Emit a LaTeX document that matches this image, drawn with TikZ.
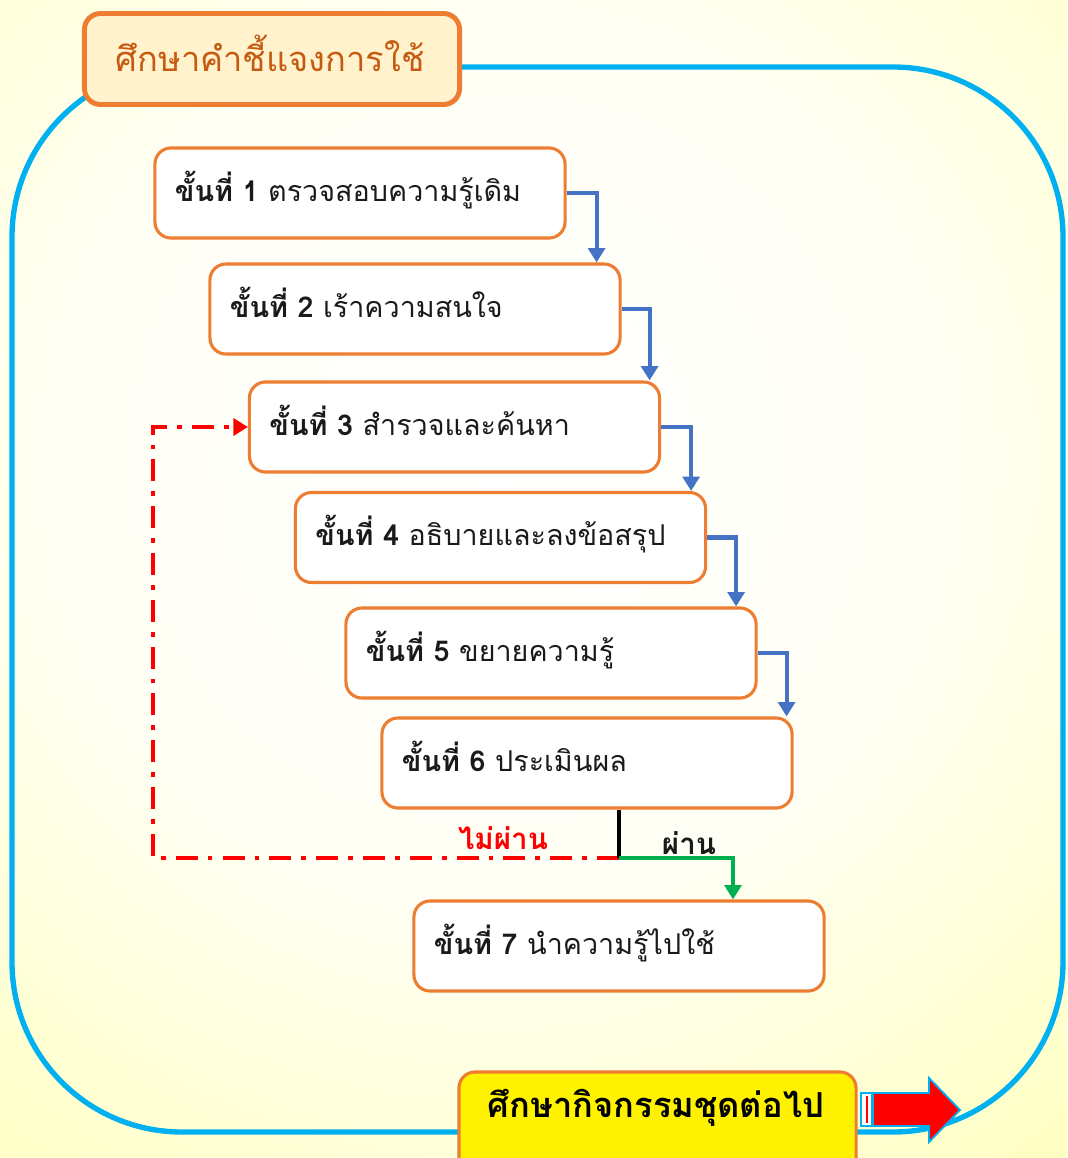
\documentclass[tikz,border=0pt]{standalone}
\usepackage{fontspec}
\newfontfamily\thai[Script=Thai]{Loma}
\usetikzlibrary{arrows.meta,calc}
\definecolor{orangeB}{HTML}{ED7D31}
\definecolor{titleFill}{HTML}{FFF2CC}
\definecolor{titleTxt}{HTML}{C55A11}
\definecolor{frameC}{HTML}{00B0F0}
\definecolor{blueA}{HTML}{4472C4}
\definecolor{greenA}{HTML}{00B050}
\definecolor{bgY}{HTML}{FFFF78}
\definecolor{txtK}{HTML}{1A1A1A}
\pgfdeclareradialshading{bgshade}{\pgfpoint{0bp}{0bp}}{color(0bp)=(white); color(14bp)=(white!96!yellow); color(50bp)=(bgY)}
\newcommand{\steptext}[1]{\raisebox{-0.03cm}[0.55cm][0.2cm]{#1}}
\begin{document}
\begin{tikzpicture}[x=0.025cm,y=-0.025cm,
  stepbox/.style={draw=orangeB, line width=2.2pt, fill=white, rounded corners=0.4cm,
    minimum width=10.25cm, minimum height=2.25cm, text width=9.25cm, align=left,
    inner xsep=0pt, text=txtK, font=\thai\fontsize{20.4}{24}\selectfont},
  barrow/.style={draw=blueA, line width=2.9pt, -{Triangle[width=0.42cm,length=0.36cm]}},
  garrow/.style={draw=greenA, line width=2.9pt, -{Triangle[width=0.42cm,length=0.36cm]}},
  rarrow/.style={draw=red, line width=3.2pt, dash pattern=on 0.55cm off 0.25cm on 0.12cm off 0.25cm,
    -{Triangle[width=0.42cm,length=0.36cm]}},
  lbl/.style={font=\thai\bfseries\fontsize{21}{24}\selectfont, inner sep=0pt}
]
\useasboundingbox (0,0) rectangle (1067,1158);
\begin{scope}
  \clip (0,0) rectangle (1067,1158);
  \shade[shading=bgshade] (-280,-320) rectangle (1280,1240);
\end{scope}
% frame
\draw[frameC, line width=3.8pt, rounded corners=4.25cm] (12,67) rectangle (1063,1132);
% title
\node[draw=orangeB, fill=titleFill, line width=3.5pt, rounded corners=0.4cm,
  minimum width=9.375cm, minimum height=2.275cm, inner sep=0pt] (title) at (272,59) {};
\node[text=titleTxt, font=\thai\fontsize{24.5}{28}\selectfont, inner sep=0pt] (titletxt) at (270,53) {ศึกษาคำชี้แจงการใช้};
% steps
\node[stepbox] (b1) at (360,193) {\steptext{\textbf{ขั้นที่ 1} ตรวจสอบความรู้เดิม}};
\node[stepbox] (b2) at (415,309) {\steptext{\textbf{ขั้นที่ 2} เร้าความสนใจ}};
\node[stepbox] (b3) at (454.5,427) {\steptext{\textbf{ขั้นที่ 3} สำรวจและค้นหา}};
\node[stepbox] (b4) at (500.5,537.5) {\steptext{\textbf{ขั้นที่ 4} อธิบายและลงข้อสรุป}};
\node[stepbox] (b5) at (551,653) {\steptext{\textbf{ขั้นที่ 5} ขยายความรู้}};
\node[stepbox] (b6) at (587,763) {\steptext{\textbf{ขั้นที่ 6} ประเมินผล}};
\node[stepbox] (b7) at (619,946) {\steptext{\textbf{ขั้นที่ 7} นำความรู้ไปใช้}};
% blue connectors
\draw[barrow] (b1.east) -- ++(30,0) coordinate (c1) -- (c1 |- b2.north);
\draw[barrow] (b2.east) -- ++(28,0) coordinate (c2) -- (c2 |- b3.north);
\draw[barrow] (b3.east) -- ++(30,0) coordinate (c3) -- (c3 |- b4.north);
\draw[barrow] (b4.east) -- ++(29,0) coordinate (c4) -- (c4 |- b5.north);
\draw[barrow] (b5.east) -- ++(29,0) coordinate (c5) -- (c5 |- b6.north);
% decision
\coordinate (split) at (619,858);
\coordinate (gturn) at (733,858);
\coordinate (rturn) at (153,858);
\draw[rarrow] (split) -- (rturn) |- (b3.west);
\draw[black, line width=2.9pt] (split |- b6.south) -- (split);
\draw[garrow] (split) -- (gturn) -- (gturn |- b7.north);
\node[lbl, text=red] (lfail) at (503,838) {ไม่ผ่าน};
\node[lbl, text=txtK] (lpass) at (689,843) {ผ่าน};
% next activity
\begin{scope}
  \clip (0,0) rectangle (1067,1158);
  \node[draw=orangeB, fill=yellow, line width=2.2pt, rounded corners=0.4cm,
    minimum width=9.925cm, minimum height=2.7cm, inner sep=0pt] (nextbox) at (657.5,1126) {};
\end{scope}
\node[font=\thai\bfseries\fontsize{24.5}{28}\selectfont, text=black, inner sep=0pt] (nexttxt) at (656,1108) {ศึกษากิจกรรมชุดต่อไป};
% red block arrow
\filldraw[fill=red, draw=frameC, line width=1.3pt, line join=miter]
  (873,1093) -- (929,1093) -- (929,1078) -- (960,1110) -- (929,1142) -- (929,1126) -- (873,1126) -- cycle;
\filldraw[fill=white, draw=frameC, line width=1.3pt] (861,1093) rectangle (872,1126);
\draw[red, line width=0.9pt] (867,1096) -- (867,1123);
\end{tikzpicture}
\end{document}
